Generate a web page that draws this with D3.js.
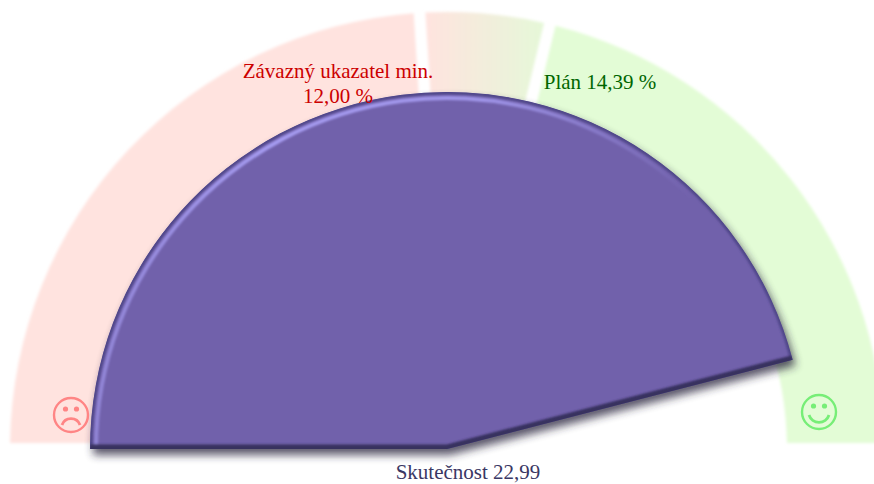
<!DOCTYPE html>
<html>
<head>
<meta charset="utf-8">
<script src="https://cdn.jsdelivr.net/npm/d3@7"></script>
<style>
  html, body { margin: 0; padding: 0; background: #fff; overflow: hidden; }
  text { font-family: "Liberation Serif", serif; font-size: 21px; text-anchor: middle; }
</style>
</head>
<body>
<div id="gauge"></div>
<script>
// gauge values
const scaleRange = [0, 25];
const minValue = 12.00;
const planValue = 14.39;
const actualValue = 22.99;
const bandNames = ["red", "mid", "green"];
const bandStops = [0, minValue, planValue, 25];
const minLabel = ["Závazný ukazatel min.", "12,00 %"];
const planLabel = ["Plán 14,39 %"];
const actualLabel = ["Skutečnost 22,99"];

const width = 874, height = 484;
const cx = 447, cy = 449;
const pieRadius = 357;

const svg = d3.select("#gauge").append("svg")
    .attr("width", width)
    .attr("height", height);

const defs = svg.append("defs");

// soft edge of the coloured bands
defs.append("filter").attr("id", "soft")
    .attr("x", "-5%").attr("y", "-5%").attr("width", "110%").attr("height", "110%")
    .append("feGaussianBlur").attr("stdDeviation", 1.5);

defs.append("filter").attr("id", "shadow")
    .attr("x", "-10%").attr("y", "-10%").attr("width", "120%").attr("height", "120%")
    .append("feGaussianBlur").attr("stdDeviation", 4.5);

defs.append("filter").attr("id", "blurEdge")
    .attr("x", "-10%").attr("y", "-10%").attr("width", "120%").attr("height", "120%")
    .append("feGaussianBlur").attr("stdDeviation", 1.3);

const midGrad = defs.append("linearGradient").attr("id", "midFill")
    .attr("gradientUnits", "userSpaceOnUse")
    .attr("gradientTransform", `translate(${-cx},0)`)
    .attr("x1", 425).attr("x2", 545).attr("y1", 0).attr("y2", 0);
midGrad.append("stop").attr("offset", "0%").attr("stop-color", "#ffe3df");
midGrad.append("stop").attr("offset", "100%").attr("stop-color", "#e5f8d8");

// highlight is strong on the left and dies away to the right
const lightGrad = defs.append("linearGradient").attr("id", "lightFill")
    .attr("gradientUnits", "userSpaceOnUse")
    .attr("gradientTransform", `translate(${-cx},0)`)
    .attr("x1", 90).attr("x2", 800).attr("y1", 0).attr("y2", 0);
lightGrad.append("stop").attr("offset", "0%").attr("stop-color", "#a59bf0").attr("stop-opacity", 0.6);
lightGrad.append("stop").attr("offset", "25%").attr("stop-color", "#a59bf0").attr("stop-opacity", 1);
lightGrad.append("stop").attr("offset", "55%").attr("stop-color", "#a59bf0").attr("stop-opacity", 0.9);
lightGrad.append("stop").attr("offset", "85%").attr("stop-color", "#a59bf0").attr("stop-opacity", 0);

// value to angle, half circle
const angle = d3.scaleLinear()
    .domain(scaleRange)
    .range([-Math.PI / 2, Math.PI / 2]);

const g = svg.append("g").attr("transform", `translate(${cx},${cy})`);

// background bands
const bandColor = d3.scaleOrdinal()
    .domain(bandNames)
    .range(["#ffe3df", "url(#midFill)", "#e3fcd6"]);

const bandArc = d3.arc()
    .innerRadius(340)
    .outerRadius(437)
    .padRadius(437)
    .padAngle(0.027);

const bandData = bandNames.map((name, i) => ({
    name: name,
    startAngle: angle(bandStops[i]),
    endAngle: angle(bandStops[i + 1])
}));

g.append("g")
    .attr("filter", "url(#soft)")
    .selectAll("path")
    .data(bandData)
    .enter()
    .append("path")
    .attr("d", bandArc)
    .attr("fill", d => bandColor(d.name));

// pie for the actual value
const pieArc = d3.arc()
    .innerRadius(0)
    .outerRadius(pieRadius);

const pieData = { startAngle: angle(scaleRange[0]), endAngle: angle(actualValue) };
const piePath = pieArc(pieData);

// drop shadow
g.append("path")
    .attr("d", piePath)
    .attr("transform", "translate(3,6)")
    .attr("fill", "#26213a")
    .attr("opacity", 0.75)
    .attr("filter", "url(#shadow)");

defs.append("clipPath").attr("id", "pieClip")
    .append("path")
    .attr("d", piePath)
    .attr("transform", `translate(${cx},${cy})`);

const pie = svg.append("g").attr("clip-path", "url(#pieClip)");
const pieInner = pie.append("g").attr("transform", `translate(${cx},${cy})`);

pieInner.append("path")
    .attr("d", piePath)
    .attr("fill", "#7161ab");

// soft darker ring towards the rim
pieInner.append("path")
    .attr("d", piePath)
    .attr("fill", "none")
    .attr("stroke", "#4f4689")
    .attr("stroke-width", 5)
    .attr("filter", "url(#blurEdge)");

// light stripe just inside the rim
pieInner.append("path")
    .attr("d", d3.arc().innerRadius(pieRadius - 8).outerRadius(pieRadius - 4)(pieData))
    .attr("fill", "url(#lightFill)")
    .attr("filter", "url(#blurEdge)");

// dark lower edges, the radius lines of the pie
const tip = d3.pointRadial(angle(actualValue), pieRadius);
const start = d3.pointRadial(angle(scaleRange[0]), pieRadius);
pieInner.append("path")
    .attr("d", d3.line()([start, [0, 0], tip]))
    .attr("fill", "none")
    .attr("stroke", "#37305f")
    .attr("stroke-width", 9)
    .attr("filter", "url(#blurEdge)");

// faces
function drawFace(x, y, color, happy) {
    const face = svg.append("g")
        .attr("transform", `translate(${x},${y})`)
        .attr("fill", "none")
        .attr("stroke", color)
        .attr("stroke-width", 2.4);
    face.append("circle").attr("r", 17);
    face.selectAll("circle.eye")
        .data([-5.5, 5.5])
        .enter()
        .append("circle")
        .attr("class", "eye")
        .attr("cx", d => d)
        .attr("cy", -6)
        .attr("r", 2.6)
        .attr("fill", color)
        .attr("stroke", "none");
    face.append("path")
        .attr("stroke-width", 2.8)
        .attr("d", happy ? "M-10,3 A10.5,10.5 0 0 0 10,3" : "M-9,10 A9.5,9.5 0 0 1 9,10");
}
drawFace(71, 415, "#ff8585", false);
drawFace(819, 412, "#77ee77", true);

// labels
function drawLabel(lines, x, y, color) {
    svg.selectAll(null)
        .data(lines)
        .enter()
        .append("text")
        .attr("x", x)
        .attr("y", (d, i) => y + i * 25)
        .attr("fill", color)
        .text(d => d);
}
drawLabel(minLabel, 338, 78, "#cc0000");
drawLabel(planLabel, 600, 89, "#006600");
drawLabel(actualLabel, 468, 479, "#3a3764");
</script>
</body>
</html>
